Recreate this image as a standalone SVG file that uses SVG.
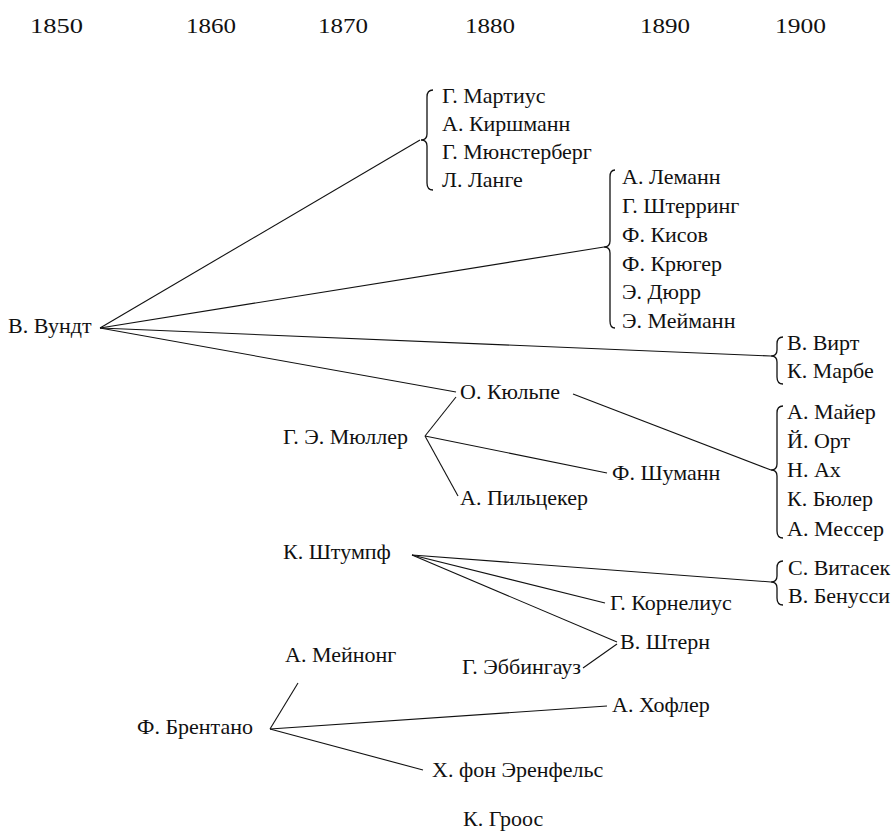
<svg xmlns="http://www.w3.org/2000/svg" width="896" height="831" viewBox="0 0 896 831">
<style>
text{font-family:"Liberation Serif","DejaVu Serif",serif;font-size:22px;fill:#111}
.yr{font-size:22px}
.ln{stroke:#111;stroke-width:1.1;fill:none}
.br{stroke:#111;stroke-width:1.3;fill:none}
</style>
<rect width="896" height="831" fill="#fff"/>
<g id="years">
<text class="yr" x="30" y="33" textLength="53" lengthAdjust="spacingAndGlyphs">1850</text>
<text class="yr" x="186" y="33" textLength="50" lengthAdjust="spacingAndGlyphs">1860</text>
<text class="yr" x="318" y="33" textLength="50" lengthAdjust="spacingAndGlyphs">1870</text>
<text class="yr" x="465" y="33" textLength="50" lengthAdjust="spacingAndGlyphs">1880</text>
<text class="yr" x="640" y="33" textLength="50" lengthAdjust="spacingAndGlyphs">1890</text>
<text class="yr" x="775" y="33" textLength="51" lengthAdjust="spacingAndGlyphs">1900</text>
</g>
<g id="connectors">
<line class="ln" x1="100" y1="328" x2="420" y2="140"/>
<line class="ln" x1="100" y1="328" x2="604" y2="247"/>
<line class="ln" x1="100" y1="328" x2="771" y2="356"/>
<line class="ln" x1="100" y1="328" x2="456" y2="392"/>
<line class="ln" x1="573" y1="394" x2="771" y2="470"/>
<line class="ln" x1="425" y1="436" x2="456" y2="397"/>
<line class="ln" x1="425" y1="436" x2="607" y2="473"/>
<line class="ln" x1="425" y1="436" x2="458" y2="496"/>
<line class="ln" x1="412" y1="555" x2="771" y2="582"/>
<line class="ln" x1="412" y1="555" x2="605" y2="603"/>
<line class="ln" x1="412" y1="555" x2="617" y2="642"/>
<line class="ln" x1="583" y1="668" x2="617" y2="644"/>
<line class="ln" x1="270" y1="729" x2="298" y2="683"/>
<line class="ln" x1="270" y1="729" x2="607" y2="706"/>
<line class="ln" x1="270" y1="729" x2="423" y2="770"/>
</g>
<g id="braces">
<path class="br" d="M433,90 Q427,90 427,97 L427,134 Q427,140 421,140 Q427,140 427,146 L427,183 Q427,190 433,190"/>
<path class="br" d="M615,170 Q610,170 610,177 L610,241 Q610,247 604,247 Q610,247 610,253 L610,321 Q610,328 615,328"/>
<path class="br" d="M783,337 Q777,337 777,344 L777,350 Q777,356 771,356 Q777,356 777,362 L777,377 Q777,384 783,384"/>
<path class="br" d="M783,406 Q777,406 777,413 L777,464 Q777,470 771,470 Q777,470 777,476 L777,531 Q777,538 783,538"/>
<path class="br" d="M783,561 Q777,561 777,568 L777,576 Q777,582 771,582 Q777,582 777,588 L777,598 Q777,605 783,605"/>
</g>
<g id="wundt"><text x="8" y="333">В. Вундт</text></g>
<g id="martius"><text x="442" y="103">Г. Мартиус</text></g>
<g id="kirschmann"><text x="442" y="131">А. Киршманн</text></g>
<g id="munsterberg"><text x="442" y="159">Г. Мюнстерберг</text></g>
<g id="lange"><text x="442" y="187">Л. Ланге</text></g>
<g id="lehmann"><text x="622" y="184">А. Леманн</text></g>
<g id="stoerring"><text x="622" y="213">Г. Штерринг</text></g>
<g id="kiesow"><text x="622" y="242">Ф. Кисов</text></g>
<g id="krueger"><text x="622" y="271">Ф. Крюгер</text></g>
<g id="duerr"><text x="622" y="299">Э. Дюрр</text></g>
<g id="meumann"><text x="622" y="328">Э. Мейманн</text></g>
<g id="wirth"><text x="787" y="350">В. Вирт</text></g>
<g id="marbe"><text x="787" y="378">К. Марбе</text></g>
<g id="kuelpe"><text x="460" y="399">О. Кюльпе</text></g>
<g id="mueller"><text x="283" y="444">Г. Э. Мюллер</text></g>
<g id="schumann"><text x="612" y="480">Ф. Шуманн</text></g>
<g id="pilzecker"><text x="460" y="505">А. Пильцекер</text></g>
<g id="mayer"><text x="787" y="419">А. Майер</text></g>
<g id="orth"><text x="787" y="448">Й. Орт</text></g>
<g id="ach"><text x="787" y="477">Н. Ах</text></g>
<g id="buehler"><text x="787" y="506">К. Бюлер</text></g>
<g id="messer"><text x="787" y="536">А. Мессер</text></g>
<g id="stumpf"><text x="283" y="559">К. Штумпф</text></g>
<g id="witasek"><text x="788" y="575">С. Витасек</text></g>
<g id="benussi"><text x="788" y="603">В. Бенусси</text></g>
<g id="cornelius"><text x="610" y="610">Г. Корнелиус</text></g>
<g id="stern"><text x="620" y="649">В. Штерн</text></g>
<g id="ebbinghaus"><text x="462" y="674">Г. Эббингауз</text></g>
<g id="meinong"><text x="285" y="662">А. Мейнонг</text></g>
<g id="brentano"><text x="137" y="734">Ф. Брентано</text></g>
<g id="hoefler"><text x="612" y="712">А. Хофлер</text></g>
<g id="ehrenfels"><text x="432" y="777">Х. фон Эренфельс</text></g>
<g id="groos"><text x="463" y="826">К. Гроос</text></g>
</svg>
